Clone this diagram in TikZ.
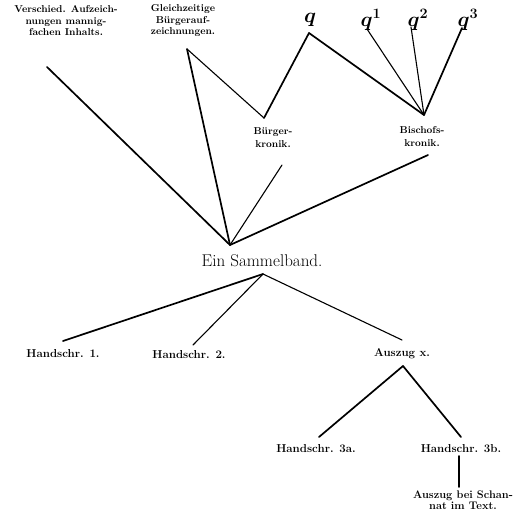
\documentclass[tikz,border=0pt]{standalone}
\usepackage{tikz}
\usetikzlibrary{positioning}

\begin{document}
\begin{tikzpicture}[x=1pt, y=-1pt, line cap=round,
    lbl/.style={font=\bfseries\fontsize{10}{11.5}\selectfont, inner sep=0pt, align=center},
    hs/.style={font=\bfseries\fontsize{11.5}{13}\selectfont, inner sep=0pt},
    qlbl/.style={font=\fontsize{20}{22}\selectfont\boldmath, inner sep=0pt},
    stem/.style={line width=1.1pt},
    trunk/.style={line width=1.7pt}]
  \useasboundingbox (0,0) rectangle (526,514);

  % top row of sources
  \node[lbl] (versch) at (66,21) {Verschied. Aufzeich-\\ nungen mannig-\\ fachen Inhalts.};
  \node[lbl] (gleich) at (183,21) {Gleichzeitige\\ Bürgerauf-\\ zeichnungen.};
  \node[qlbl] (q) at (310,20) {$q$};
  \node[qlbl] (q1) at (371,20) {$q^1$};
  \node[qlbl] (q2) at (418,20) {$q^2$};
  \node[qlbl] (q3) at (468,20) {$q^3$};

  \coordinate (jv) at (47,67);
  \coordinate (jg) at (187,49);
  \coordinate (jq) at (309,33);
  \coordinate (jq1) at (367,29);
  \coordinate (jq2) at (411,27);
  \coordinate (jq3) at (462,28);

  % chronicles
  \coordinate (jbu) at (264,118);
  \coordinate (jbi) at (424,115);
  \node[lbl, font=\bfseries\fontsize{10}{13}\selectfont] (buerger) at (273,138) {Bürger-\\ kronik.};
  \node[lbl, font=\bfseries\fontsize{10}{13}\selectfont] (bischof) at (422,137) {Bischofs-\\ kronik.};
  \coordinate (jbu2) at (282,165);
  \coordinate (jbi2) at (428,155);

  % collection volume
  \coordinate (js) at (230,245);
  \node[font=\fontsize{17}{19}\selectfont, inner sep=0pt] (sammel) at (262,261) {Ein Sammelband.};
  \coordinate (jsb) at (263,274);

  % manuscripts
  \coordinate (jh1) at (63,341);
  \coordinate (jh2) at (193,345);
  \coordinate (jax) at (402,340);
  \node[hs, below=8pt of jh1] (h1) {Handschr. 1.};
  \node[hs, below=5pt of jh2, xshift=-4pt] (h2) {Handschr. 2.};
  \node[hs, below=8pt of jax] (ausz) {Auszug x.};
  \coordinate (jab) at (403,366);
  \coordinate (j3a) at (319,437);
  \coordinate (j3b) at (461,437);
  \node[hs, below=7pt of j3a, xshift=-3pt] (h3a) {Handschr. 3a.};
  \node[hs, below=7pt of j3b] (h3b) {Handschr. 3b.};
  \coordinate (j3c) at (459,456);
  \coordinate (jsch) at (459,487);
  \node[lbl, font=\bfseries\fontsize{11}{10.5}\selectfont, below=4pt of jsch, xshift=4pt] (schannat) {Auszug bei Schan-\\ nat im Text.};

  % connectors
  \draw[trunk] (jv) -- (js);
  \draw[trunk] (jg) -- (js);
  \draw[stem] (jg) -- (jbu);
  \draw[trunk] (jbu) -- (jq);
  \draw[trunk] (jq) -- (jbi);
  \draw[stem] (jq1) -- (jbi);
  \draw[stem] (jq2) -- (jbi);
  \draw[trunk] (jq3) -- (jbi);
  \draw[stem] (jbu2) -- (js);
  \draw[trunk] (jbi2) -- (js);
  \draw[trunk] (jsb) -- (jh1);
  \draw[stem] (jsb) -- (jh2);
  \draw[stem] (jsb) -- (jax);
  \draw[trunk] (jab) -- (j3a);
  \draw[trunk] (jab) -- (j3b);
  \draw[trunk] (j3c) -- (jsch);
\end{tikzpicture}
\end{document}
